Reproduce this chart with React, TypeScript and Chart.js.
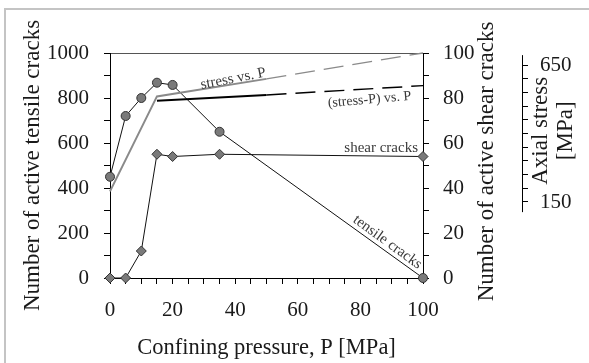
import React, { useEffect, useRef } from 'react';
import { Chart, registerables } from 'chart.js';

Chart.register(...registerables);

// ---- data ----
const pressure = [0, 5, 10, 15, 20, 35, 100];
const tensileCracks = [450, 720, 800, 868, 858, 650, 0];
const shearCracks = [0, 0, 12, 55, 54, 55, 54];

const stressSolidP = [0, 15, 50];
const stressSolidV = [385, 807, 885];
const stressDashP = [50, 100];
const stressDashV = [885, 1000];

const stressMinusPSolidP = [15, 50];
const stressMinusPSolidV = [788, 813];
const stressMinusPDashP = [50, 100];
const stressMinusPDashV = [813, 855];

const axialStressLabels = [150, 650];
const axialStressMin = -127.4;
const axialStressMax = 693.8;

const xTitle = 'Confining pressure, P [MPa]';
const yTitle = 'Number of active tensile cracks';
const y2Title = 'Number of active shear cracks';
const y3Title = ['Axial stress', '[MPa]'];

// annotations, in data units (P, left-axis value)
const annotations = [
  { text: 'stress vs. P', p: 39.6, v: 868, angle: -11, align: 'center', size: 15 },
  { text: '(stress-P) vs. P', p: 83, v: 776, angle: -5, align: 'center', size: 14 },
  { text: 'shear cracks', p: 98.4, v: 562, angle: 0, align: 'right', size: 15 },
  { text: 'tensile cracks', p: 87.9, v: 145, angle: 36, align: 'center', size: 15 },
];

const FONT = "'Liberation Serif', 'DejaVu Serif', serif";

const pts = (xs: number[], ys: number[]) => xs.map((x, i) => ({ x, y: ys[i] }));

const extrasPlugin = {
  id: 'extras',
  beforeDraw(chart: any) {
    const ctx = chart.ctx;
    ctx.save();
    ctx.fillStyle = '#c4c4c4';
    ctx.fillRect(4, 8, chart.width - 4, 2);
    ctx.fillRect(4, 8, 2, chart.height - 8);
    ctx.restore();
  },
  afterDraw(chart: any) {
    const ctx = chart.ctx;
    const { chartArea } = chart;
    const xs = chart.scales.x;
    const ys = chart.scales.y;
    const y3 = chart.scales.y3;
    ctx.save();
    // right title
    ctx.fillStyle = '#1a1a1a';
    ctx.font = `23px ${FONT}`;
    ctx.textAlign = 'center';
    ctx.textBaseline = 'middle';
    ctx.save();
    ctx.translate(487, (chartArea.top + chartArea.bottom) / 2 - 4);
    ctx.rotate(-Math.PI / 2);
    ctx.fillText(y2Title, 0, 0);
    ctx.restore();

    // third axis line
    const ax = Math.round(y3.left - 0.5) + 0.5;
    ctx.strokeStyle = '#000';
    ctx.lineWidth = 1;
    ctx.beginPath();
    ctx.moveTo(ax, y3.getPixelForValue(686));
    ctx.lineTo(ax, y3.getPixelForValue(113));
    ctx.stroke();

    // third axis title
    const midY = y3.getPixelForValue(410);
    ctx.font = `23px ${FONT}`;
    [541, 566].forEach((cx, i) => {
      ctx.save();
      ctx.translate(cx, midY);
      ctx.rotate(-Math.PI / 2);
      ctx.fillText(y3Title[i], 0, 0);
      ctx.restore();
    });

    // annotations
    ctx.fillStyle = '#3a3a3a';
    ctx.textBaseline = 'alphabetic';
    annotations.forEach((a) => {
      ctx.save();
      ctx.font = `${a.size}px ${FONT}`;
      ctx.translate(xs.getPixelForValue(a.p), ys.getPixelForValue(a.v));
      ctx.rotate((a.angle * Math.PI) / 180);
      ctx.textAlign = a.align;
      ctx.fillText(a.text, 0, 0);
      ctx.restore();
    });
    ctx.restore();
  },
};

export default function App() {
  const ref = useRef<HTMLCanvasElement>(null);
  useEffect(() => {
    if (!ref.current) return;
    const tickFont = { family: FONT, size: 21 };
    const chart = new Chart(ref.current, {
      type: 'line',
      data: {
        datasets: [
          {
            label: 'stress vs. P',
            data: pts(stressSolidP, stressSolidV),
            yAxisID: 'y',
            borderColor: '#8a8a8a',
            borderWidth: 2,
            pointRadius: 0,
            clip: false,
          },
          {
            label: 'stress vs. P (dashed)',
            data: pts(stressDashP, stressDashV),
            yAxisID: 'y',
            borderColor: '#8a8a8a',
            borderWidth: 1.3,
            borderDash: [20, 9],
            pointRadius: 0,
            clip: false,
          },
          {
            label: '(stress-P) vs. P',
            data: pts(stressMinusPSolidP, stressMinusPSolidV),
            yAxisID: 'y',
            borderColor: '#000',
            borderWidth: 2,
            pointRadius: 0,
            clip: false,
          },
          {
            label: '(stress-P) vs. P (dashed)',
            data: pts(stressMinusPDashP, stressMinusPDashV),
            yAxisID: 'y',
            borderColor: '#000',
            borderWidth: 1.5,
            borderDash: [20, 9],
            pointRadius: 0,
            clip: false,
          },
          {
            label: 'tensile cracks',
            data: pts(pressure, tensileCracks),
            yAxisID: 'y',
            borderColor: '#111',
            borderWidth: 1,
            pointStyle: 'circle',
            pointRadius: 4.5,
            pointBackgroundColor: '#7a7a7a',
            pointBorderColor: '#333',
            pointBorderWidth: 1,
            clip: false,
          },
          {
            label: 'shear cracks',
            data: pts(pressure, shearCracks),
            yAxisID: 'y2',
            borderColor: '#111',
            borderWidth: 1,
            pointStyle: 'rectRot',
            pointRadius: 5,
            pointBackgroundColor: '#7a7a7a',
            pointBorderColor: '#333',
            pointBorderWidth: 1,
            clip: false,
          },
        ],
      },
      options: {
        animation: false,
        responsive: false,
        devicePixelRatio: 1,
        layout: { padding: { top: 53, left: 0, right: 0, bottom: 0 } },
        plugins: { legend: { display: false }, tooltip: { enabled: false } },
        scales: {
          x: {
            type: 'linear',
            min: 0,
            max: 100,
            grid: { drawOnChartArea: false, tickLength: 6, tickColor: '#000' },
            border: { color: '#000', width: 1 },
            ticks: {
              stepSize: 5,
              autoSkip: false,
              maxRotation: 0,
              padding: 14,
              color: '#1a1a1a',
              font: tickFont,
              callback: (v: any) => (Number(v) % 20 === 0 ? String(v) : ''),
            },
            title: {
              display: true,
              text: xTitle,
              color: '#1a1a1a',
              font: { family: FONT, size: 22.5 },
              padding: { top: 0, bottom: 1 },
            },
            afterFit: (s: any) => {
              s.height = 85;
            },
          },
          y: {
            type: 'linear',
            position: 'left',
            min: 0,
            max: 1000,
            grid: {
              drawOnChartArea: true,
              tickLength: 6,
              tickColor: '#000',
              color: (c: any) => (c.tick && c.tick.value === 1000 ? '#555' : 'rgba(0,0,0,0)'),
            },
            border: { color: '#000', width: 1 },
            ticks: {
              stepSize: 100,
              autoSkip: false,
              padding: 15,
              color: '#1a1a1a',
              font: tickFont,
              callback: (v: any) => (Number(v) % 200 === 0 ? String(v) : ''),
            },
            title: {
              display: true,
              text: yTitle,
              color: '#1a1a1a',
              font: { family: FONT, size: 23 },
              padding: { top: 19, bottom: 0 },
            },
            afterFit: (s: any) => {
              s.width = 110;
            },
          },
          y2: {
            type: 'linear',
            position: 'right',
            weight: 0,
            min: 0,
            max: 100,
            grid: { drawOnChartArea: false, tickLength: 6, tickColor: '#000' },
            border: { color: '#000', width: 1 },
            ticks: {
              stepSize: 10,
              autoSkip: false,
              padding: 14,
              color: '#1a1a1a',
              font: tickFont,
              callback: (v: any) => (Number(v) % 20 === 0 ? String(v) : ''),
            },
            afterFit: (s: any) => {
              s.width = 99;
            },
          },
          y3: {
            type: 'linear',
            position: 'right',
            weight: 1,
            min: axialStressMin,
            max: axialStressMax,
            grid: { drawOnChartArea: false, tickLength: 6, tickColor: '#000' },
            border: { display: false },
            afterBuildTicks: (s: any) => {
              s.ticks = s.ticks.filter((t: any) => t.value >= 149.9 && t.value <= 650.1);
            },
            ticks: {
              stepSize: 50,
              includeBounds: false,
              autoSkip: false,
              padding: 12,
              color: '#1a1a1a',
              font: tickFont,
              callback: (v: any) =>
                axialStressLabels.some((a) => Math.abs(a - Number(v)) < 0.01) ? String(Math.round(Number(v))) : '',
            },
            afterFit: (s: any) => {
              s.width = 67;
            },
          },
        },
      } as any,
      plugins: [extrasPlugin as any],
    });
    return () => chart.destroy();
  }, []);
  return (
    <canvas
      ref={ref}
      width={589}
      height={363}
      style={{ position: 'absolute', left: 0, top: 0, width: 589, height: 363, display: 'block' }}
    />
  );
}
